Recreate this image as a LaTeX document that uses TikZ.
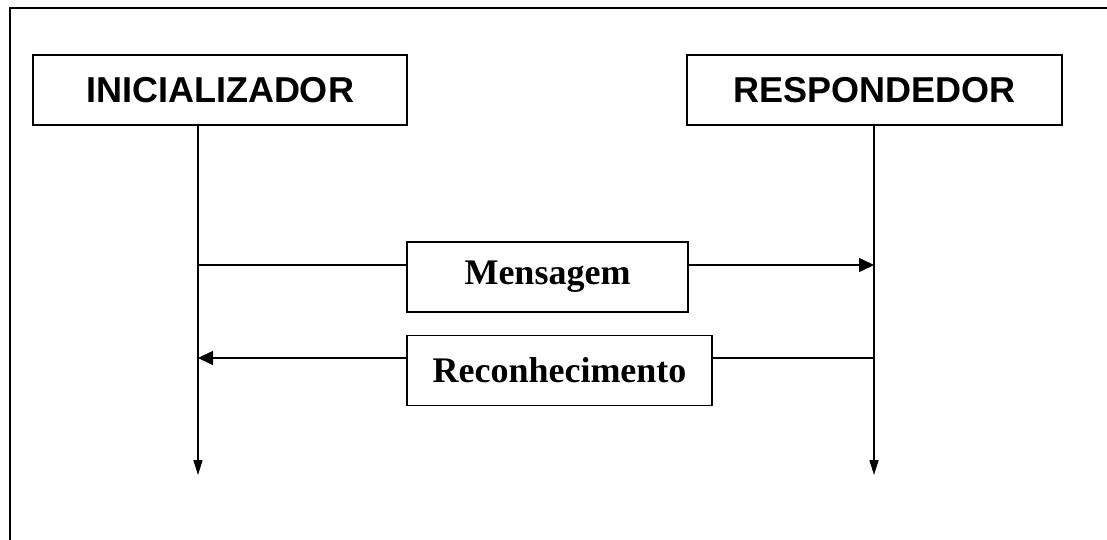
\documentclass[tikz,border=0pt]{standalone}
\usepackage{fontspec}
\setmainfont{Liberation Serif}
\setsansfont{Liberation Sans}
\usetikzlibrary{arrows.meta}
\begin{document}
\begin{tikzpicture}[x=1pt,y=-1pt,
        party/.style={draw,line width=1.5pt,inner sep=0pt,minimum height=70pt,font=\sffamily\bfseries\fontsize{36}{40}\selectfont},
        msgbox/.style={draw,line width=1.5pt,inner sep=0pt,minimum height=70pt,font=\rmfamily\bfseries\fontsize{36}{40}\selectfont},
        life/.style={line width=1.5pt,-{Triangle[length=15pt,width=9pt]}},
        call/.style={line width=1.5pt,-{Triangle[length=15pt,width=14pt]}},
        plain/.style={line width=1.5pt}]
        \useasboundingbox (0,0) rectangle (1107,540);
        \draw[line width=1.5pt] (1107,8) -- (10,8) -- (10,540);
        % the two parties
        \node[party,minimum width=374pt] (init) at (220,90) {INICIALIZADOR};
        \node[party,minimum width=375pt] (resp) at (874.5,90) {RESPONDEDOR};
        \coordinate (inittop) at (198,125);
        \coordinate (initend) at (198,475);
        \coordinate (resptop) at (874,125);
        \coordinate (respend) at (874,475);
        \draw[life] (inittop) -- (initend);
        \draw[life] (resptop) -- (respend);
        % the two messages
        \node[msgbox,minimum width=281pt] (msg) at (547.5,277) {Mensagem};
        \node[msgbox,minimum width=305pt] (ack) at (559.5,370.5) {Reconhecimento};
        \coordinate (initmsg) at (198,265);
        \coordinate (respmsg) at (874,265);
        \coordinate (initack) at (198,358);
        \coordinate (respack) at (874,358);
        \draw[plain] (initmsg) -- (msg.west |- initmsg);
        \draw[call] (msg.east |- respmsg) -- (respmsg);
        \draw[plain] (respack) -- (ack.east |- respack);
        \draw[call] (ack.west |- initack) -- (initack);
\end{tikzpicture}
\end{document}
